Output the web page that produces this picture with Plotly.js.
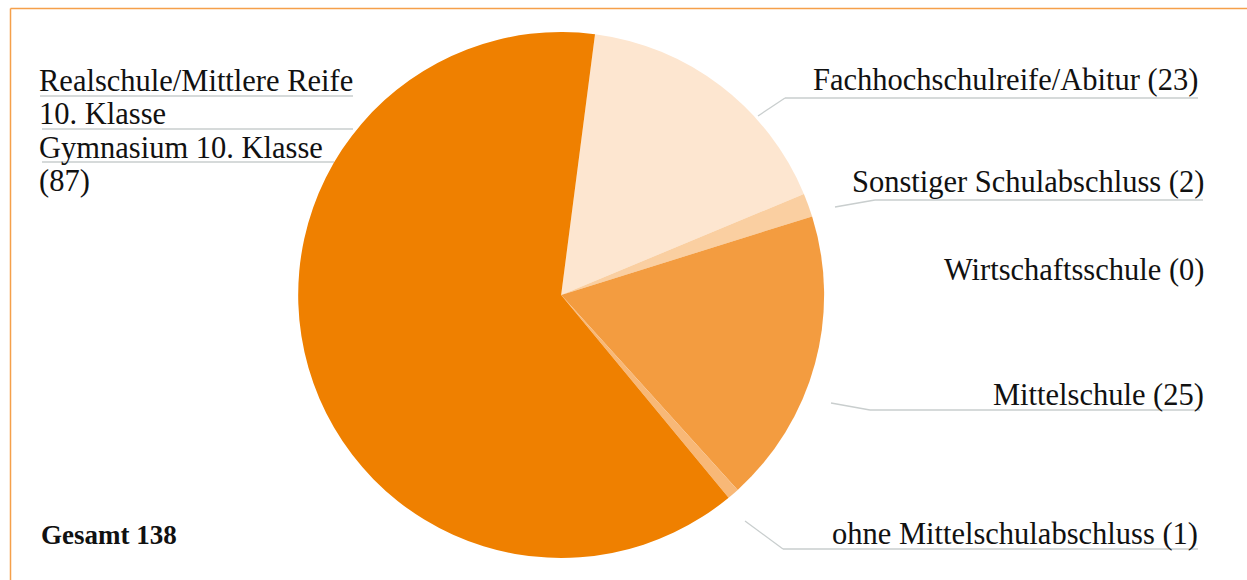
<!DOCTYPE html>
<html>
<head>
<meta charset="utf-8">
<script src="https://cdn.plot.ly/plotly-3.0.1.min.js"></script>
<style>html,body{margin:0;padding:0;background:#fff;}#chart{width:1247px;height:580px;}</style>
</head>
<body>
<div id="chart"></div>
<script>
const categories = ["Fachhochschulreife/Abitur", "Sonstiger Schulabschluss", "Wirtschaftsschule", "Mittelschule", "ohne Mittelschulabschluss", "Realschule/Mittlere Reife 10. Klasse Gymnasium 10. Klasse"];
const values = [23, 2, 0, 25, 1, 87];
const sliceColors = ["#FDE6D0", "#FACFA1", "#F7B06A", "#F39C40", "#F8B877", "#EF8000"];
const realschuleLines = ["Realschule/Mittlere Reife", "10. Klasse", "Gymnasium 10. Klasse"];
const totalLabel = "Gesamt";

const W = 1247, H = 580;
const px = x => x / W, py = y => 1 - y / H;
const FONT = "Liberation Serif, Times New Roman, serif";
const FS = 30.5;

const total = values.reduce((a, b) => a + b, 0);

const trace = {
  type: "pie",
  labels: categories,
  values: values,
  sort: false,
  direction: "clockwise",
  rotation: 7.4,
  textinfo: "none",
  hoverinfo: "label+value",
  marker: {colors: sliceColors, line: {width: 0}},
  domain: {x: [0.2, 0.7], y: [0.038, 0.9448]},
  showlegend: false
};

// label placement (positions only)
const rightLabels = [
  {i: 0, xr: 1200, base: 89},
  {i: 1, xr: 1206, base: 191},
  {i: 2, xr: 1206, base: 279},
  {i: 3, xr: 1206, base: 404},
  {i: 4, xr: 1200, base: 543}
];
const annotations = [];
const off = 0.30 * FS;
rightLabels.forEach(l => {
  annotations.push({
    xref: "paper", yref: "paper", x: px(l.xr), y: py(l.base - off),
    xanchor: "right", yanchor: "middle", showarrow: false,
    text: categories[l.i] + " (" + values[l.i] + ")",
    font: {family: FONT, size: FS, color: "#111"}
  });
});
const leftBases = [90, 123, 157, 190];
const leftTexts = realschuleLines.concat(["(" + values[5] + ")"]);
leftTexts.forEach((t, k) => {
  annotations.push({
    xref: "paper", yref: "paper", x: px(37), y: py(leftBases[k] - off),
    xanchor: "left", yanchor: "middle", showarrow: false,
    text: t, font: {family: FONT, size: FS, color: "#111"}
  });
});
annotations.push({
  xref: "paper", yref: "paper", x: px(39), y: py(543 - 0.3 * 27),
  xanchor: "left", yanchor: "middle", showarrow: false,
  text: "<b>" + totalLabel + " " + total + "</b>",
  font: {family: FONT, size: 27, color: "#111"}
});

const lc = "#C9CECE";
function seg(x0, y0, x1, y1, color, w) {
  return {type: "line", xref: "paper", yref: "paper", x0: px(x0), y0: py(y0), x1: px(x1), y1: py(y1),
    line: {color: color || lc, width: w || 1.3}};
}
const shapes = [
  // border (top and left)
  seg(10.5, 8.5, 1247, 8.5, "#F5A04A", 1.5),
  seg(10.5, 8.5, 10.5, 580, "#F5A04A", 1.5),
  // Realschule underlines
  seg(40, 96, 353, 96), seg(42, 129, 353, 129), seg(42, 162, 334, 162),
  // Fachhochschulreife
  seg(758, 116, 785, 98), seg(785, 98, 1198, 98),
  // Sonstiger
  seg(835, 207, 875, 200), seg(875, 200, 1203, 200),
  // Mittelschule
  seg(831, 403, 870, 410), seg(870, 410, 1200, 410),
  // ohne
  seg(745, 521, 783, 549), seg(783, 549, 1198, 549)
];

const layout = {
  width: W, height: H,
  margin: {l: 0, r: 0, t: 0, b: 0},
  paper_bgcolor: "#fff",
  annotations: annotations,
  shapes: shapes,
  showlegend: false
};
Plotly.newPlot("chart", [trace], layout, {displayModeBar: false, staticPlot: true});
</script>
</body>
</html>
